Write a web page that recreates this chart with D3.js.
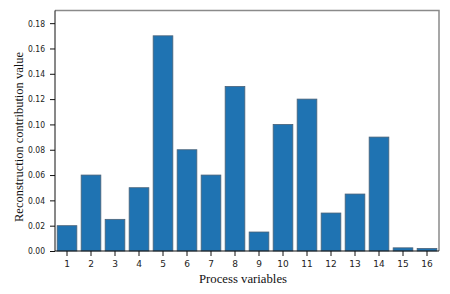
<!DOCTYPE html>
<html><head><meta charset="utf-8">
<script src="https://cdn.jsdelivr.net/npm/d3@7"></script>
<style>body{margin:0;background:#fff;}svg{display:block;}</style>
</head><body>
<svg id="c" width="450" height="294"></svg>
<script>
const categories = ["1","2","3","4","5","6","7","8","9","10","11","12","13","14","15","16"];
const values = [0.02,0.06,0.025,0.05,0.17,0.08,0.06,0.13,0.015,0.10,0.12,0.03,0.045,0.09,0.0025,0.002];
const yTicks = [0,0.02,0.04,0.06,0.08,0.10,0.12,0.14,0.16,0.18];
const xTitle = "Process variables";
const yTitle = "Reconstruction contribution value";

const svg = d3.select("#c");
const m = {l:55, r:11, t:10.5, b:43};
const W = 450, H = 294;
const x = d3.scaleBand().domain(categories).range([m.l, W-m.r]).paddingInner(0.18).paddingOuter(0.09);
const y = d3.scaleLinear().domain([0,0.19]).range([H-m.b, m.t]);

svg.append("path").attr("d",`M${m.l},${m.t}H${W-m.r}V${H-m.b}`).attr("fill","none").attr("stroke","#8a8a8a").attr("stroke-width",1.5);

svg.append("g").selectAll("rect").data(values).join("rect")
  .attr("x",(d,i)=>x(categories[i]))
  .attr("y",d=>y(d))
  .attr("width",x.bandwidth())
  .attr("height",d=>y(0)-y(d))
  .attr("fill","#1f73b2")
  .attr("stroke","#4a6278").attr("stroke-width",0.8);

const gy = svg.append("g").attr("transform",`translate(${m.l},0)`)
  .call(d3.axisLeft(y).tickValues(yTicks).tickFormat(d3.format(".2f")).tickSize(5).tickPadding(5));
const gx = svg.append("g").attr("transform",`translate(0,${H-m.b})`)
  .call(d3.axisBottom(x).tickSize(5).tickPadding(5));
[gy,gx].forEach(g=>{
  g.selectAll("text").attr("font-family","'DejaVu Sans', Verdana, sans-serif").attr("font-size","9px").attr("fill","#222");
  g.select(".domain").attr("stroke","#111");
  g.selectAll(".tick line").attr("stroke","#111");
});
gy.selectAll("text").attr("textLength",17).attr("lengthAdjust","spacingAndGlyphs");
gy.select(".domain").attr("d",`M0,${H-m.b}V${m.t}`);
gx.select(".domain").attr("d",`M${m.l},0H${W-m.r}`);

svg.append("text").attr("x",243).attr("y",283)
  .attr("text-anchor","middle").attr("font-family","'Liberation Serif', 'Times New Roman', serif")
  .attr("font-size","12px").attr("fill","#111")
  .attr("textLength",88).attr("lengthAdjust","spacingAndGlyphs").text(xTitle);
svg.append("text").attr("transform",`translate(22.5,137) rotate(-90)`)
  .attr("text-anchor","middle").attr("font-family","'Liberation Serif', 'Times New Roman', serif")
  .attr("font-size","11.5px").attr("fill","#111")
  .attr("textLength",170).attr("lengthAdjust","spacingAndGlyphs").text(yTitle);
</script>
</body></html>
